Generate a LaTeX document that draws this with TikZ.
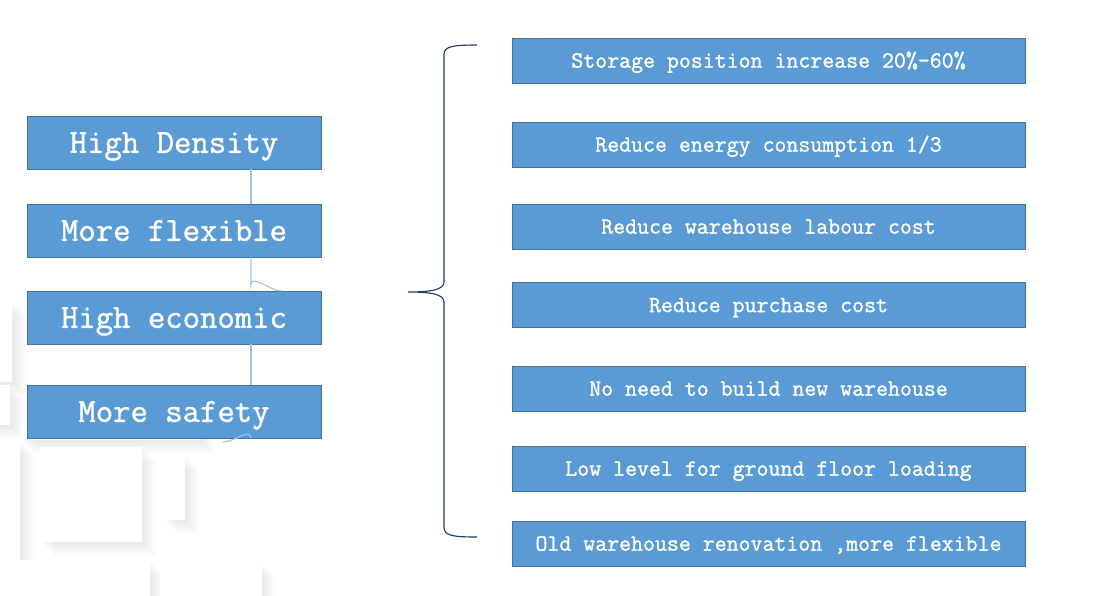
\documentclass[tikz,border=0pt]{standalone}
\usepackage{fontspec}
\newfontfamily\boxfont{Latin Modern Mono}[FakeBold=1.2]
\definecolor{boxblue}{RGB}{91,155,213}
\definecolor{boxedge}{RGB}{65,113,156}
\definecolor{linkblue}{RGB}{157,195,230}
\definecolor{bracenavy}{RGB}{31,56,100}
\usetikzlibrary{calc}
\tikzset{
  featbox/.style={draw=boxedge, fill=boxblue, text=white, inner sep=0pt,
    font=\boxfont\fontsize{24}{28}\selectfont, text height=14.7pt, text depth=0pt,
    minimum width=7.35cm, minimum height=1.325cm},
  gainbox/.style={draw=boxedge, fill=boxblue, text=white, inner sep=0pt,
    font=\boxfont\fontsize{16.5}{19}\selectfont, text height=10.1pt, text depth=0pt,
    minimum width=12.825cm, minimum height=1.125cm},
  link/.style={linkblue, line width=0.8pt}
}
% white square with a soft shadow to the lower right
\newcommand\bgsquare[2]{%
  \foreach \d in {2,4,...,14}
    \fill[black, opacity=0.012] ($(#1)+(\d,\d)$) rectangle ($(#2)+(\d,\d)$);
  \fill[white] (#1) rectangle (#2);}
\begin{document}
\begin{tikzpicture}[x=0.025cm, y=-0.025cm]
\useasboundingbox (0,0) rectangle (1117,595);

% --- background squares (bottom left) ---
\bgsquare{-20,300}{12,382}
\bgsquare{-20,385}{10,425}
\bgsquare{20,425}{200,440}
\bgsquare{-20,440}{20,560}
\bgsquare{40,447}{142,542}
\bgsquare{163,455}{185,520}
\bgsquare{0,560}{150,600}
\bgsquare{160,562}{262,600}

% --- features (left) ---
\node[featbox] (hd) at (174,142.5) {High Density};
\node[featbox] (mf) at (174,230.5) {More flexible};
\node[featbox] (he) at (174,317.5) {High economic};
\node[featbox] (ms) at (174,411.5) {More safety};

% thin links between the features
\coordinate (lx) at (251,0);
\draw[link] (hd.south -| lx) -- (mf.north -| lx);
\draw[link] (mf.south -| lx) -- ++(0,28) to[out=90,in=180] (282,291);
\draw[link] (he.south -| lx) -- (ms.north -| lx);
\draw[link] (ms.south -| lx) to[out=90,in=0] (223,442);

% --- brace ---
\coordinate (btop) at (477,45);
\coordinate (btip) at (408,292);
\coordinate (bbot) at (477,537);
\draw[bracenavy, line width=0.8pt]
  (btop) .. controls (450,45) and (444,47) .. (444,55) -- (444,282)
  .. controls (444,290) and (430,292) .. (btip)
  .. controls (430,292) and (444,294) .. (444,302) -- (444,527)
  .. controls (444,535) and (450,537) .. (bbot);

% --- gains (right) ---
\node[gainbox] (g1) at (768.5,60.5) {Storage position increase 20\%-60\%};
\node[gainbox] (g2) at (768.5,144.5) {Reduce energy consumption 1/3};
\node[gainbox] (g3) at (768.5,226.5) {Reduce warehouse labour cost};
\node[gainbox] (g4) at (768.5,305) {Reduce purchase cost};
\node[gainbox] (g5) at (768.5,388.5) {No need to build new warehouse};
\node[gainbox] (g6) at (768.5,468.5) {Low level for ground floor loading};
\node[gainbox] (g7) at (768.5,543.5) {Old warehouse renovation ,more flexible};

\end{tikzpicture}
\end{document}
